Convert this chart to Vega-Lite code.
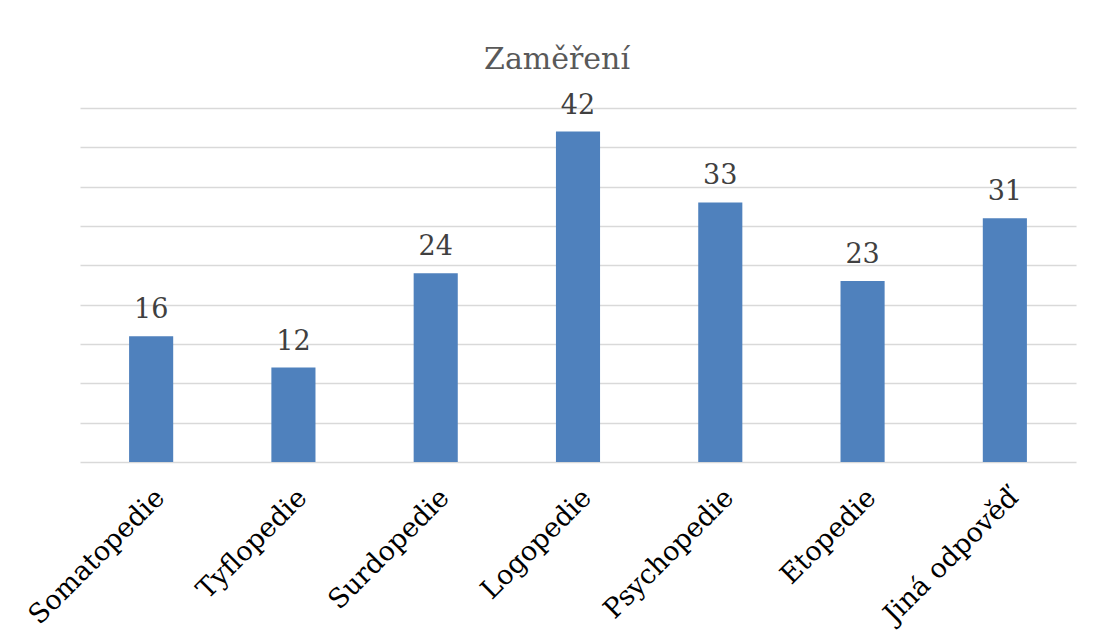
{
  "$schema": "https://vega.github.io/schema/vega-lite/v6.json",
  "width": 996,
  "height": 354,
  "autosize": {"type": "none"},
  "padding": {"left": 80, "top": 108, "right": 18, "bottom": 180},
  "background": "white",
  "title": {
    "text": "Zaměření",
    "font": "DejaVu Serif",
    "fontSize": 30,
    "fontWeight": "normal",
    "color": "#595959",
    "anchor": "middle",
    "dx": -21,
    "offset": 17
  },
  "data": {
    "values": [
      {"kategorie": "Somatopedie", "pocet": 16},
      {"kategorie": "Tyflopedie", "pocet": 12},
      {"kategorie": "Surdopedie", "pocet": 24},
      {"kategorie": "Logopedie", "pocet": 42},
      {"kategorie": "Psychopedie", "pocet": 33},
      {"kategorie": "Etopedie", "pocet": 23},
      {"kategorie": "Jiná odpověď", "pocet": 31}
    ]
  },
  "encoding": {
    "x": {
      "field": "kategorie",
      "type": "nominal",
      "sort": null,
      "scale": {"paddingInner": 0.69, "paddingOuter": 0.345},
      "axis": {
        "title": null,
        "labelAngle": -45,
        "labelFont": "DejaVu Serif",
        "labelFontSize": 27,
        "labelColor": "#000000",
        "labelPadding": 22,
        "ticks": false,
        "domainColor": "#d9d9d9",
        "domainWidth": 1.5,
        "grid": false
      }
    },
    "y": {
      "field": "pocet",
      "type": "quantitative",
      "scale": {"domain": [0, 45]},
      "axis": {
        "title": null,
        "labels": false,
        "ticks": false,
        "domain": false,
        "values": [5, 10, 15, 20, 25, 30, 35, 40, 45],
        "gridColor": "#d9d9d9",
        "gridWidth": 1.5
      }
    }
  },
  "layer": [
    {"mark": {"type": "bar", "color": "#4F81BD"}},
    {
      "mark": {
        "type": "text",
        "font": "DejaVu Serif",
        "fontSize": 27,
        "color": "#404040",
        "baseline": "alphabetic",
        "dy": -18
      },
      "encoding": {"text": {"field": "pocet", "type": "quantitative"}}
    }
  ],
  "config": {"view": {"stroke": null}}
}
